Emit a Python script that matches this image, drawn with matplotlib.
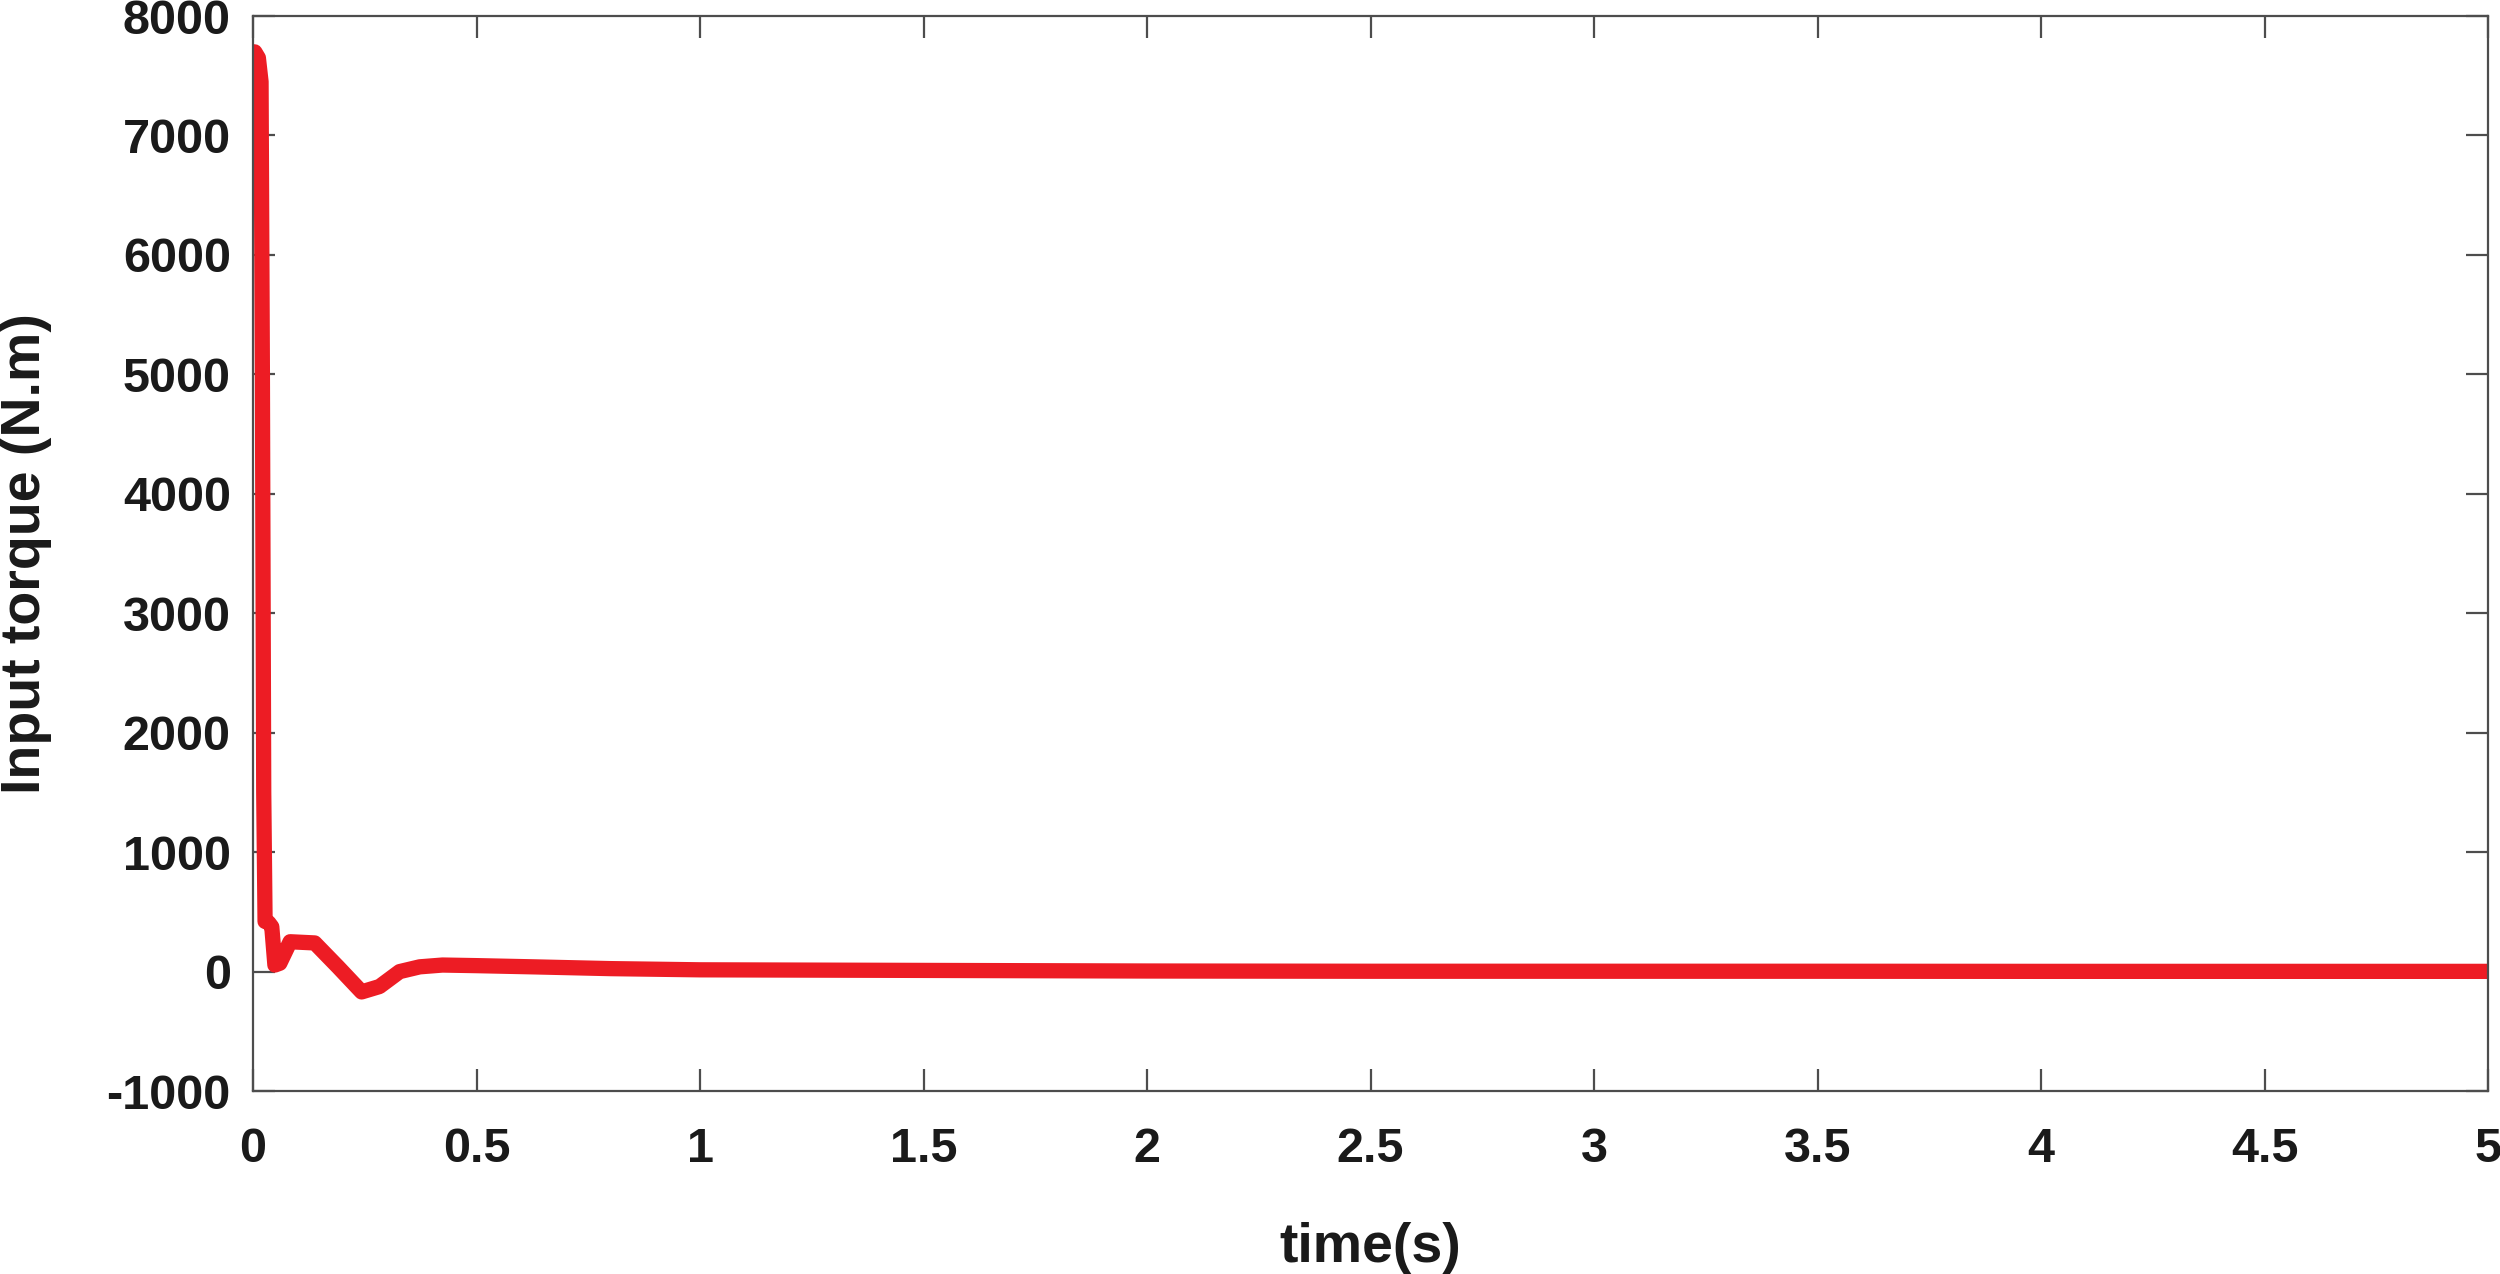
import matplotlib
matplotlib.use("Agg")
import matplotlib.pyplot as plt

# values
time_s = [0.0, 0.0, 0.004, 0.012, 0.018, 0.021, 0.024, 0.027, 0.035, 0.042, 0.049,
          0.06, 0.083, 0.138, 0.19, 0.243, 0.283, 0.328, 0.373, 0.424, 0.5, 0.626,
          0.8, 1.0, 1.5, 2.0, 2.5, 3.0, 3.5, 4.0, 4.5, 5.0]
torque = [7000, 7700, 7700, 7650, 7450, 5000, 1500, 420, 410, 375, 55,
          70, 250, 240, 40, -170, -125, 0, 40, 55, 50, 40,
          25, 15, 10, 5, 3, 3, 3, 2, 2, 2]

xticks = [0, 0.5, 1, 1.5, 2, 2.5, 3, 3.5, 4, 4.5, 5]
xticklabels = ["0", "0.5", "1", "1.5", "2", "2.5", "3", "3.5", "4", "4.5", "5"]
yticks = [-1000, 0, 1000, 2000, 3000, 4000, 5000, 6000, 7000, 8000]

plt.rcParams['font.family'] = ['Liberation Sans', 'DejaVu Sans']
plt.rcParams['font.weight'] = 'bold'
plt.rcParams['axes.unicode_minus'] = False

fig = plt.figure(figsize=(25, 12.74), dpi=100)
ax = fig.add_axes([0.1012, 0.1436, 0.894, 0.8438])
ax.plot(time_s, torque, color='#ed1c24', linewidth=11, solid_joinstyle='round')

ax.set_xlim(0, 5)
ax.set_ylim(-1000, 8000)
ax.set_xticks(xticks)
ax.set_xticklabels(xticklabels)
ax.set_yticks(yticks)
ax.tick_params(direction='in', length=16, width=1.6, color='#4d4d4d',
               labelsize=35, labelcolor='#1a1a1a', top=True, right=True)
ax.tick_params(axis='x', pad=26)
ax.tick_params(axis='y', pad=16)
for lab in ax.get_xticklabels() + ax.get_yticklabels():
    lab.set_fontweight('bold')
for s in ax.spines.values():
    s.set_color('#4d4d4d')
    s.set_linewidth(1.6)

ax.set_xlabel('time(s)', fontsize=40, fontweight='bold', color='#1a1a1a')
ax.set_ylabel('Input torque (N.m)', fontsize=40, fontweight='bold', color='#1a1a1a')
ax.xaxis.set_label_coords(0.5, -0.122)
ax.yaxis.set_label_coords(-0.09, 0.5)

fig.savefig('out.png', dpi=100, facecolor='white')
